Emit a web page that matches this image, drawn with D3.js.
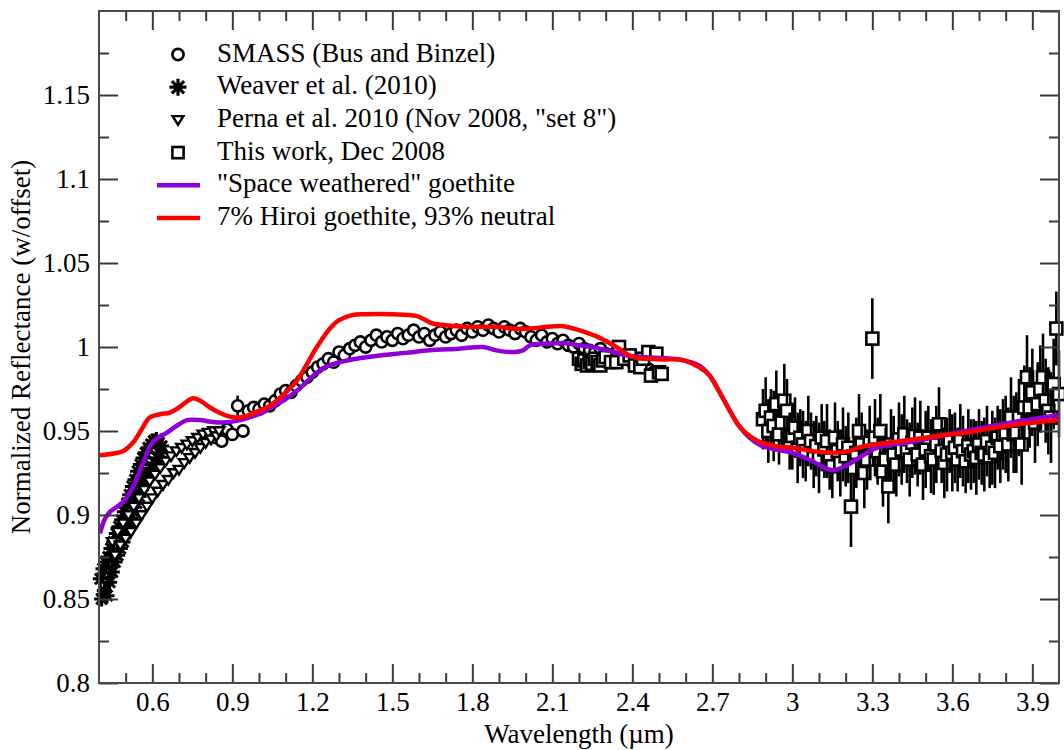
<!DOCTYPE html>
<html>
<head>
<meta charset="utf-8">
<script src="https://cdn.jsdelivr.net/npm/d3@7"></script>
<style>
  html, body { margin: 0; padding: 0; background: #fff; }
  svg { display: block; font-family: "Liberation Serif", "Times New Roman", serif; }
  svg text { font-family: "Liberation Serif", "Times New Roman", serif; }
</style>
</head>
<body>
<svg id="chart" width="1064" height="750"></svg>
<script>
// ---------------- DATA ----------------
const xTickValues = [0.6, 0.9, 1.2, 1.5, 1.8, 2.1, 2.4, 2.7, 3.0, 3.3, 3.6, 3.9];
const xTickLabels = ["0.6", "0.9", "1.2", "1.5", "1.8", "2.1", "2.4", "2.7", "3", "3.3", "3.6", "3.9"];
const yTickValues = [0.8, 0.85, 0.9, 0.95, 1.0, 1.05, 1.1, 1.15];
const yTickLabels = ["0.8", "0.85", "0.9", "0.95", "1", "1.05", "1.1", "1.15"];
const xTitle = "Wavelength (µm)";
const yTitle = "Normalized Reflectance (w/offset)";
const legendLabels = ["SMASS (Bus and Binzel)", "Weaver et al. (2010)", "Perna et al. 2010 (Nov 2008, \"set 8\")",
  "This work, Dec 2008", "\"Space weathered\" goethite", "7% Hiroi goethite, 93% neutral"];

// SMASS (Bus and Binzel) - circles
const smassWl = [0.84,0.86,0.88,0.90,0.92,0.94,0.96,0.98,1.00,1.02,1.04,1.06,1.08,1.10,1.12,1.14,1.16,1.18,1.20,1.22,1.24,1.26,1.28,1.30,1.32,1.34,1.36,1.38,1.40,1.42,1.44,1.46,1.48,1.50,1.52,1.54,1.56,1.58,1.60,1.62,1.64,1.66,1.68,1.70,1.72,1.74,1.76,1.78,1.80,1.82,1.84,1.86,1.88,1.90,1.92,1.94,1.96,1.98,2.00,2.02,2.04,2.06,2.08,2.10,2.12,2.14,2.16,2.18,2.20,2.22,2.24,2.26,2.28,2.30,2.32,2.34,2.36,2.38,2.40,2.42,2.44,2.46,2.48];
const smassRefl = [0.946,0.944,0.951,0.948,0.965,0.950,0.962,0.964,0.963,0.966,0.965,0.968,0.972,0.974,0.973,0.977,0.980,0.982,0.985,0.988,0.990,0.993,0.991,0.997,0.995,0.999,1.001,1.003,1.000,1.004,1.007,1.003,1.006,1.004,1.008,1.005,1.007,1.010,1.006,1.008,1.004,1.007,1.009,1.006,1.008,1.010,1.007,1.011,1.009,1.012,1.010,1.013,1.011,1.009,1.012,1.010,1.008,1.011,1.009,1.006,1.004,1.007,1.003,1.005,1.002,1.004,1.001,1.000,1.002,0.999,0.998,0.997,0.999,0.996,0.995,0.997,0.994,0.993,0.991,0.988,0.990,0.987,0.985];
const smassErr = [0.002,0.002,0.003,0.003,0.006,0.003,0.004,0.003,0.003,0.003,0.002,0.002,0.002,0.002,0.002,0.002,0.002,0.002,0.002,0.002,0.002,0.002,0.002,0.002,0.002,0.002,0.002,0.002,0.002,0.002,0.002,0.002,0.002,0.002,0.002,0.002,0.002,0.002,0.002,0.002,0.002,0.002,0.002,0.002,0.002,0.002,0.002,0.002,0.002,0.002,0.002,0.002,0.002,0.002,0.002,0.002,0.002,0.002,0.002,0.002,0.002,0.002,0.002,0.002,0.002,0.002,0.002,0.002,0.002,0.002,0.002,0.002,0.002,0.002,0.002,0.002,0.002,0.002,0.002,0.002,0.002,0.002,0.002];

// Weaver et al. (2010) - asterisks
const weaverWl = [0.405,0.410,0.415,0.420,0.425,0.430,0.435,0.440,0.445,0.450,0.455,0.460,0.465,0.470,0.475,0.480,0.485,0.490,0.495,0.500,0.505,0.510,0.515,0.520,0.525,0.530,0.535,0.540,0.545,0.550,0.555,0.560,0.565,0.570,0.575,0.580,0.585,0.590,0.595,0.600,0.605,0.610,0.615,0.620,0.625,0.630,0.635];
const weaverRefl = [0.862,0.850,0.868,0.855,0.872,0.852,0.875,0.860,0.880,0.866,0.884,0.872,0.889,0.876,0.893,0.880,0.897,0.884,0.902,0.889,0.907,0.893,0.912,0.898,0.917,0.902,0.921,0.907,0.926,0.911,0.930,0.915,0.934,0.919,0.937,0.922,0.940,0.925,0.942,0.928,0.944,0.931,0.945,0.934,0.943,0.937,0.941];

// Perna et al. 2010 - triangles (down)
const pernaWl = [0.45,0.46,0.47,0.48,0.49,0.50,0.51,0.52,0.53,0.54,0.55,0.56,0.57,0.58,0.59,0.60,0.61,0.62,0.63,0.64,0.65,0.66,0.67,0.68,0.69,0.70,0.71,0.72,0.73,0.74,0.75,0.76,0.77,0.78,0.79,0.80,0.81,0.82,0.83,0.84,0.85];
const pernaRefl = [0.884,0.876,0.890,0.882,0.895,0.886,0.900,0.890,0.905,0.895,0.910,0.900,0.915,0.905,0.920,0.910,0.924,0.914,0.928,0.918,0.932,0.921,0.935,0.925,0.938,0.927,0.940,0.931,0.942,0.934,0.944,0.937,0.946,0.940,0.948,0.943,0.949,0.945,0.950,0.947,0.950];

// This work, Dec 2008 - squares with error bars
const workWl = [2.20,2.21,2.22,2.23,2.24,2.25,2.26,2.27,2.28,2.29,2.30,2.32,2.34,2.35,2.37,2.39,2.41,2.43,2.44,2.46,2.47,2.49,2.50,2.51,
  2.89,2.90,2.91,2.92,2.93,2.94,2.95,2.96,2.97,2.98,2.99,3.00,3.01,3.02,3.03,3.04,3.05,3.06,3.07,3.08,3.09,3.10,3.11,3.12,3.13,3.14,3.15,3.16,3.17,3.18,3.19,3.20,3.21,3.22,3.23,3.24,3.25,3.26,3.27,3.28,3.29,3.30,3.31,3.32,3.33,3.34,3.35,3.36,3.37,3.38,3.39,3.40,3.41,3.42,3.43,3.44,3.45,3.46,3.47,3.48,3.49,3.50,3.51,3.52,3.53,3.54,3.55,3.56,3.57,3.58,3.59,3.60,3.61,3.62,3.63,3.64,3.65,3.66,3.67,3.68,3.69,3.70,3.71,3.72,3.73,3.74,3.75,3.76,3.77,3.78,3.79,3.80,3.81,3.82,3.83,3.84,3.85,3.86,3.87,3.88,3.89,3.90,3.91,3.92,3.93,3.94,3.95,3.96,3.97,3.98,3.99,4.00];
const workRefl = [0.993,0.990,0.992,0.989,0.991,0.990,0.993,0.991,0.989,0.992,0.994,0.991,0.991,1.000,0.993,0.995,0.989,0.988,0.993,0.997,0.983,0.996,0.985,0.984,
  0.957,0.962,0.950,0.958,0.953,0.966,0.948,0.955,0.968,0.962,0.944,0.947,0.952,0.940,0.946,0.942,0.938,0.950,0.944,0.936,0.941,0.934,0.946,0.939,0.944,0.933,0.929,0.946,0.938,0.931,0.942,0.935,0.940,0.905,0.928,0.937,0.950,0.942,0.925,0.933,0.943,1.005,0.946,0.938,0.950,0.926,0.933,0.917,0.942,0.936,0.930,0.945,0.939,0.948,0.938,0.933,0.943,0.947,0.936,0.946,0.930,0.939,0.946,0.935,0.933,0.942,0.954,0.938,0.931,0.936,0.944,0.937,0.940,0.933,0.944,0.938,0.932,0.941,0.936,0.938,0.934,0.942,0.937,0.936,0.944,0.935,0.940,0.937,0.946,0.941,0.948,0.948,0.942,0.958,0.948,0.949,0.958,0.942,0.964,0.982,0.964,0.973,0.955,0.966,0.975,0.982,0.968,0.962,0.958,0.978,1.011,0.972];
const workErr = [0.004,0.004,0.004,0.004,0.004,0.004,0.004,0.004,0.004,0.004,0.004,0.003,0.003,0.003,0.003,0.003,0.003,0.003,0.003,0.003,0.003,0.003,0.003,0.003,
  0.018,0.020,0.019,0.017,0.021,0.020,0.018,0.017,0.022,0.019,0.017,0.020,0.018,0.021,0.017,0.020,0.018,0.021,0.017,0.020,0.018,0.021,0.020,0.017,0.022,0.018,0.019,0.021,0.018,0.020,0.022,0.018,0.021,0.024,0.019,0.021,0.022,0.019,0.021,0.018,0.022,0.024,0.023,0.020,0.022,0.021,0.019,0.022,0.021,0.023,0.019,0.022,0.021,0.023,0.019,0.022,0.021,0.023,0.019,0.022,0.021,0.023,0.019,0.022,0.021,0.023,0.022,0.019,0.021,0.022,0.019,0.023,0.021,0.019,0.022,0.021,0.019,0.022,0.021,0.019,0.022,0.021,0.019,0.022,0.021,0.019,0.022,0.021,0.019,0.022,0.021,0.023,0.022,0.024,0.023,0.024,0.023,0.024,0.025,0.025,0.024,0.026,0.024,0.025,0.026,0.026,0.025,0.026,0.027,0.027,0.022,0.026];

// "Space weathered" goethite - purple line
const swWl = [0.404,0.42,0.44,0.49,0.527,0.565,0.602,0.655,0.70,0.73,0.78,0.82,0.865,0.93,0.98,1.015,1.04,1.09,1.142,1.19,1.24,1.28,1.33,1.454,1.55,1.64,1.75,1.84,1.89,1.94,1.99,2.016,2.08,2.14,2.20,2.267,2.33,2.39,2.515,2.58,2.65,2.69,2.717,2.766,2.80,2.84,2.88,2.94,3.0,3.066,3.11,3.152,3.205,3.253,3.317,3.44,3.628,3.816,4.0];
const swRefl = [0.889,0.897,0.9017,0.9077,0.9166,0.931,0.9434,0.949,0.954,0.9565,0.9565,0.9555,0.955,0.9565,0.959,0.961,0.9636,0.968,0.974,0.981,0.9874,0.990,0.992,0.995,0.9965,0.998,0.999,1.0,0.998,0.997,0.998,1.001,1.002,1.0024,1.001,0.9994,0.997,0.9946,0.9934,0.9925,0.989,0.983,0.976,0.962,0.953,0.946,0.9416,0.939,0.937,0.9327,0.929,0.9267,0.9297,0.9344,0.940,0.9434,0.9493,0.955,0.9594];

// 7% Hiroi goethite, 93% neutral - red line
const hiroiWl = [0.40,0.45,0.49,0.527,0.56,0.59,0.63,0.666,0.70,0.752,0.78,0.816,0.85,0.88,0.92,0.955,1.00,1.04,1.08,1.142,1.18,1.217,1.266,1.30,1.35,1.40,1.50,1.59,1.625,1.652,1.70,1.765,1.89,1.95,2.016,2.08,2.14,2.20,2.27,2.34,2.39,2.417,2.46,2.515,2.58,2.65,2.69,2.717,2.766,2.80,2.84,2.88,2.94,3.00,3.08,3.152,3.21,3.253,3.31,3.377,3.45,3.565,3.65,3.75,3.85,4.0];
const hiroiRefl = [0.9355,0.9365,0.938,0.943,0.951,0.958,0.960,0.961,0.964,0.9695,0.968,0.964,0.961,0.959,0.958,0.959,0.962,0.965,0.970,0.980,0.990,1.000,1.011,1.016,1.019,1.0195,1.0195,1.0185,1.016,1.014,1.013,1.012,1.012,1.011,1.011,1.012,1.0124,1.010,1.006,1.000,0.995,0.9934,0.993,0.9925,0.9925,0.988,0.983,0.976,0.962,0.953,0.947,0.9434,0.941,0.940,0.938,0.937,0.938,0.9404,0.942,0.9434,0.945,0.9475,0.949,0.9517,0.954,0.9565];

// ---------------- CHART ----------------
const svg = d3.select("#chart");
const x = d3.scaleLinear().domain([0.4, 4.0]).range([99, 1059]);
const y = d3.scaleLinear().domain([0.8, 1.2]).range([683, 11]);
const FONT = 27;
const FAMILY = "'Liberation Serif', 'Times New Roman', serif";
const AX = "#3a3a3a";
const PURPLE = "#8f00d6";
const RED = "#ff0000";

svg.append("defs").append("clipPath").attr("id", "clip")
  .append("rect").attr("x", 99).attr("y", 11).attr("width", 960).attr("height", 672);

const plot = svg.append("g");

// symbols
function circle(g, cx, cy, r) {
  g.append("circle").attr("cx", cx).attr("cy", cy).attr("r", r)
    .attr("fill", "#fff").attr("stroke", "#000").attr("stroke-width", 2.6);
}
function star(g, cx, cy, s, sw) {
  const d = s * 0.72;
  const p = `M${cx - s},${cy}L${cx + s},${cy}M${cx},${cy - s}L${cx},${cy + s}` +
            `M${cx - d},${cy - d}L${cx + d},${cy + d}M${cx - d},${cy + d}L${cx + d},${cy - d}`;
  g.append("path").attr("d", p).attr("stroke", "#000").attr("stroke-width", sw || 3).attr("fill", "none");
}
function triDown(g, cx, cy, s) {
  const p = `M${cx - s},${cy - s * 0.7}L${cx + s},${cy - s * 0.7}L${cx},${cy + s * 0.9}Z`;
  g.append("path").attr("d", p).attr("fill", "#fff").attr("stroke", "#000").attr("stroke-width", 2.4)
    .attr("stroke-linejoin", "miter");
}
function square(g, cx, cy, s) {
  g.append("rect").attr("x", cx - s).attr("y", cy - s).attr("width", 2 * s).attr("height", 2 * s)
    .attr("fill", "#fff").attr("stroke", "#000").attr("stroke-width", 2.6);
}
function errBar(g, cx, v, e) {
  g.append("line").attr("x1", cx).attr("x2", cx).attr("y1", y(v - e)).attr("y2", y(v + e))
    .attr("stroke", "#000").attr("stroke-width", 2.6);
}

// SMASS circles
const gS = plot.append("g");
smassWl.forEach((w, i) => {
  errBar(gS, x(w), smassRefl[i], smassErr[i] || 0);
  circle(gS, x(w), y(smassRefl[i]), 5.6);
});
// Weaver asterisks
const gW = plot.append("g");
weaverWl.forEach((w, i) => star(gW, x(w), y(weaverRefl[i]), 7.5));
// Perna triangles
const gP = plot.append("g");
pernaWl.forEach((w, i) => triDown(gP, x(w), y(pernaRefl[i]), 5.4));
// This work squares with error bars
const gT = plot.append("g");
workWl.forEach((w, i) => {
  errBar(gT, x(w), workRefl[i], workErr[i] || 0);
  square(gT, x(w), y(workRefl[i]), 6);
});

// model lines (clipped to the frame)
const lines = svg.append("g").attr("clip-path", "url(#clip)");
const line = d3.line().x(d => x(d[0])).y(d => y(d[1])).curve(d3.curveCatmullRom.alpha(0.5));
lines.append("path").datum(swWl.map((w, i) => [w, swRefl[i]]))
  .attr("d", line).attr("fill", "none").attr("stroke", PURPLE).attr("stroke-width", 4.5)
  .attr("stroke-linejoin", "round");
lines.append("path").datum(hiroiWl.map((w, i) => [w, hiroiRefl[i]]))
  .attr("d", line).attr("fill", "none").attr("stroke", RED).attr("stroke-width", 4.5)
  .attr("stroke-linejoin", "round");

// ---------------- AXES ----------------
const xMinor = d3.range(5, 40).map(v => v / 10).filter(v => !xTickValues.some(t => Math.abs(t - v) < 1e-6));
const yMajorAll = d3.range(0, 9).map(i => 0.8 + i * 0.05);
const yMinor = d3.range(0, 8).map(i => 0.825 + i * 0.05);

function styleAxis(g) {
  g.attr("font-family", FAMILY).attr("font-size", FONT);
  g.selectAll(".domain").remove();
  g.selectAll(".tick line").attr("stroke", AX).attr("stroke-width", 2);
  g.selectAll("text").attr("font-size", FONT).attr("font-family", FAMILY).attr("fill", "#000");
}

// bottom
svg.append("g").attr("transform", "translate(0,683)")
  .call(d3.axisBottom(x).tickValues(xTickValues).tickSize(-19).tickPadding(9)
    .tickFormat((d, i) => xTickLabels[i]))
  .call(styleAxis);
svg.append("g").attr("transform", "translate(0,683)")
  .call(d3.axisBottom(x).tickValues(xMinor).tickSize(-10).tickFormat(""))
  .call(styleAxis);
// top
svg.append("g").attr("transform", "translate(0,11)")
  .call(d3.axisTop(x).tickValues(xTickValues).tickSize(-19).tickFormat(""))
  .call(styleAxis);
svg.append("g").attr("transform", "translate(0,11)")
  .call(d3.axisTop(x).tickValues(xMinor).tickSize(-10).tickFormat(""))
  .call(styleAxis);
// left
svg.append("g").attr("transform", "translate(99,0)")
  .call(d3.axisLeft(y).tickValues(yTickValues).tickSize(-19).tickPadding(9)
    .tickFormat((d, i) => yTickLabels[i]))
  .call(styleAxis);
svg.append("g").attr("transform", "translate(99,0)")
  .call(d3.axisLeft(y).tickValues(yMinor).tickSize(-10).tickFormat(""))
  .call(styleAxis);
// right
svg.append("g").attr("transform", "translate(1059,0)")
  .call(d3.axisRight(y).tickValues(yMajorAll).tickSize(-19).tickFormat(""))
  .call(styleAxis);
svg.append("g").attr("transform", "translate(1059,0)")
  .call(d3.axisRight(y).tickValues(yMinor).tickSize(-10).tickFormat(""))
  .call(styleAxis);

// frame
svg.append("rect").attr("x", 99).attr("y", 11).attr("width", 960).attr("height", 672)
  .attr("fill", "none").attr("stroke", "#4a4a4a").attr("stroke-width", 2);

// axis titles
svg.append("text").attr("x", 579).attr("y", 743).attr("text-anchor", "middle")
  .attr("font-family", FAMILY).attr("font-size", FONT).text(xTitle);
svg.append("text").attr("transform", "translate(30,347) rotate(-90)").attr("text-anchor", "middle")
  .attr("font-family", FAMILY).attr("font-size", FONT).text(yTitle);

// ---------------- LEGEND ----------------
const leg = svg.append("g");
const rowY = i => 54.5 + i * 32.7;
circle(leg, 178, rowY(0), 5.6);
star(leg, 178, rowY(1), 8.5, 3.2);
triDown(leg, 178, rowY(2), 5.4);
square(leg, 178, rowY(3), 5.6);
leg.append("line").attr("x1", 157).attr("x2", 200).attr("y1", rowY(4)).attr("y2", rowY(4))
  .attr("stroke", PURPLE).attr("stroke-width", 4.5);
leg.append("line").attr("x1", 157).attr("x2", 200).attr("y1", rowY(5)).attr("y2", rowY(5))
  .attr("stroke", RED).attr("stroke-width", 4.5);
legendLabels.forEach((t, i) => {
  leg.append("text").attr("x", 217).attr("y", rowY(i) + 7).attr("font-family", FAMILY)
    .attr("font-size", FONT).text(t);
});
</script>
</body>
</html>
